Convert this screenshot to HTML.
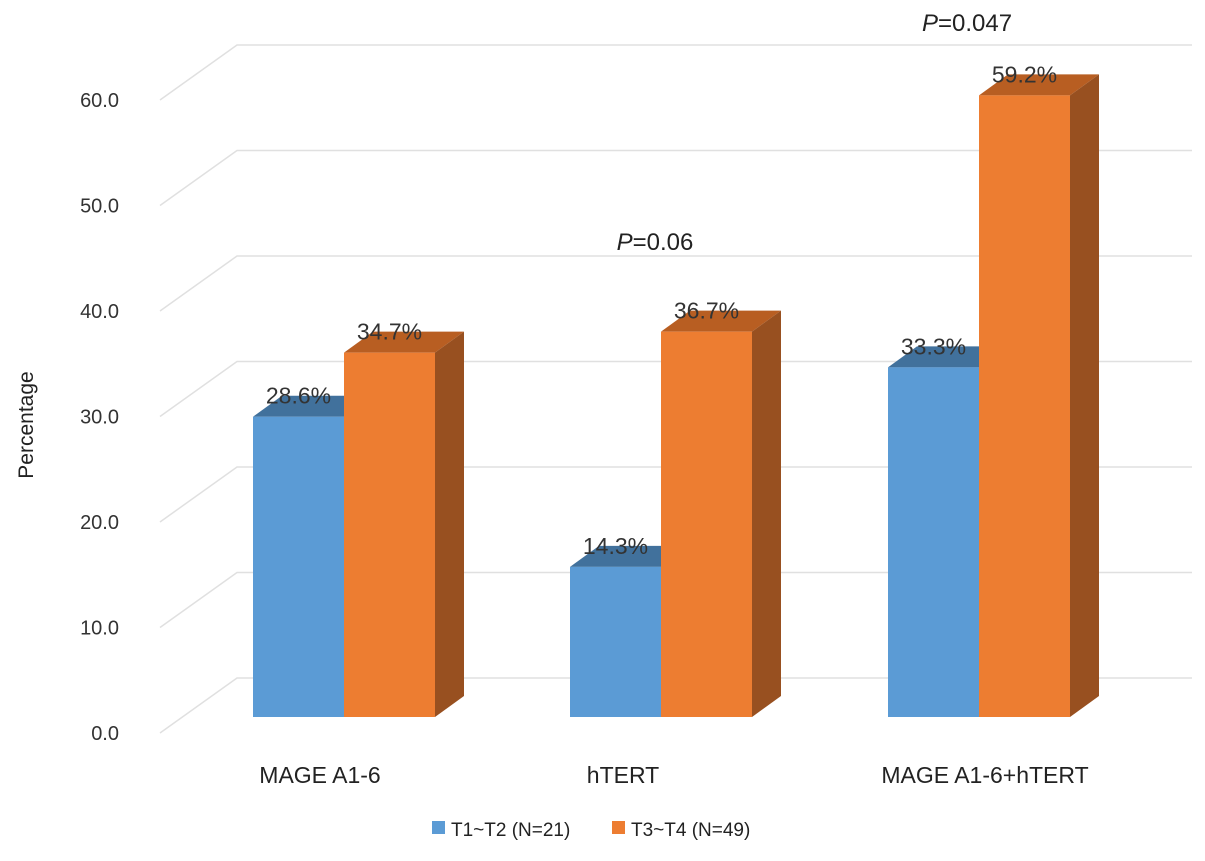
<!DOCTYPE html>
<html><head><meta charset="utf-8"><style>
body{margin:0;background:#fff;}
svg{font-family:"Liberation Sans",Arial,sans-serif;}
</style></head><body>
<svg width="1205" height="856" viewBox="0 0 1205 856">
<g id="grid"></g>
<g id="yticks"></g>
<text x="33" y="425" font-size="21" fill="#222" text-anchor="middle" transform="rotate(-90 33 425)">Percentage</text>
<g id="bars"></g>
<g id="xlabels"></g>
<text x="655" y="250" font-size="24" fill="#222" text-anchor="middle"><tspan font-style="italic">P</tspan>=0.06</text>
<text x="967" y="31" font-size="24" fill="#222" text-anchor="middle"><tspan font-style="italic">P</tspan>=0.047</text>
<g>
<rect x="432" y="821" width="13" height="13" fill="#5b9bd5"/>
<text x="451" y="836" font-size="19" fill="#222">T1~T2 (N=21)</text>
<rect x="612" y="821" width="13" height="13" fill="#ed7d31"/>
<text x="631" y="836" font-size="19" fill="#222">T3~T4 (N=49)</text>
</g>
</svg>
<script>
const categories=["MAGE A1-6","hTERT","MAGE A1-6+hTERT"];
const seriesT1T2=[28.6,14.3,33.3];
const seriesT3T4=[34.7,36.7,59.2];
const tickValues=[0,10,20,30,40,50,60];
const tickLabels=["0.0","10.0","20.0","30.0","40.0","50.0","60.0"];
const NS="http://www.w3.org/2000/svg";
function mk(t,a,p){const e=document.createElementNS(NS,t);for(const k in a)e.setAttribute(k,a[k]);p.appendChild(e);return e;}
const base=717, scale=10.5, dx=29, dy=-21;
function y(v){return base-v*scale;}
function gy(v){return 733-v*10.55;}
const grid=document.getElementById('grid');
tickValues.concat([70]).forEach(v=>{
  const l=mk('polyline',{points:`160,${gy(v)} 237,${gy(v)-55} 1192,${gy(v)-55}`,fill:'none',stroke:'#e0e0e0','stroke-width':1.5},grid);
  
  
});
const yt=document.getElementById('yticks');
tickValues.forEach((v,i)=>{
  const t=mk('text',{x:119,y:gy(v)+7,'font-size':20,fill:'#333','text-anchor':'end'},yt);
  t.textContent=tickLabels[i];
  
  
});
const groupX=[253,570,888], bw=91;
const labelShift=[-24,-38,6];
const bars=document.getElementById('bars'), xl=document.getElementById('xlabels');
function bar(x,v,front,top,side,name){
  const g=mk('g',{},bars);
  
  
  const t=y(v);
  mk('polygon',{points:`${x},${t} ${x+dx},${t+dy} ${x+bw+dx},${t+dy} ${x+bw},${t}`,fill:top},g);
  mk('polygon',{points:`${x+bw},${t} ${x+bw+dx},${t+dy} ${x+bw+dx},${base+dy} ${x+bw},${base}`,fill:side},g);
  mk('rect',{x:x,y:t,width:bw,height:base-t,fill:front},g);
  const lb=mk('text',{x:x+bw/2,y:t-13,'font-size':23,fill:'#333','text-anchor':'middle'},g);
  lb.textContent=v.toFixed(1)+'%';
  
  
}
categories.forEach((c,i)=>{
  const x=groupX[i];
  bar(x,seriesT1T2[i],'#5b9bd5','#41719c','#3e6c98','bar-t1t2-'+i);
  bar(x+bw,seriesT3T4[i],'#ed7d31','#b85e22','#985020','bar-t3t4-'+i);
  const t=mk('text',{x:x+bw+labelShift[i],y:783,'font-size':23,fill:'#222','text-anchor':'middle'},xl);
  t.textContent=c;
  
  
});
</script>
</body></html>
